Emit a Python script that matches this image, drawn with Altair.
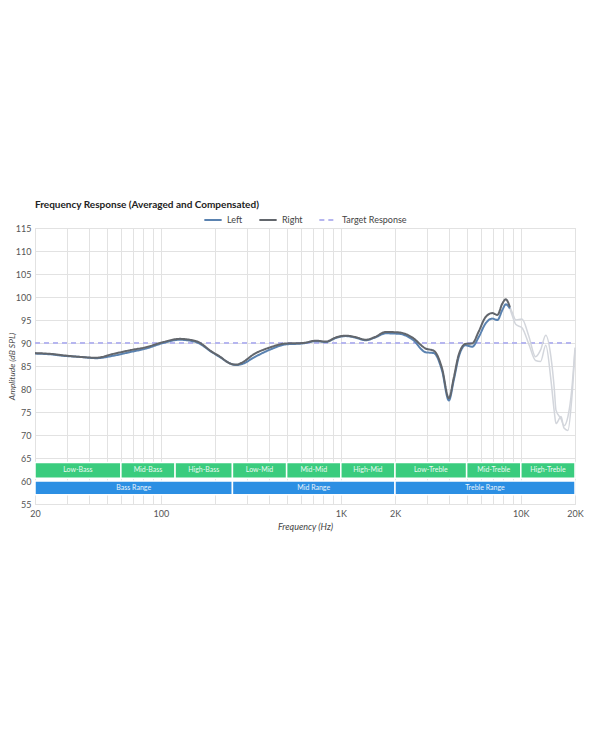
import altair as alt
import pandas as pd

# ---------------- data ----------------
freq_main = [20, 25, 29, 35, 44, 54, 67, 83, 103, 127, 157, 194, 212, 241, 262, 290,
             324, 401, 496, 614, 728, 826, 938, 1066, 1200, 1377, 1550, 1775, 2104,
             2495, 2958, 3290, 3650, 3983, 4245, 4522, 4929, 5370, 5836, 6360, 6930,
             7410, 7900, 8250, 8700]
left_main = [87.7, 87.5, 87.2, 87.0, 86.7, 87.2, 88.0, 88.8, 90.0, 90.7, 90.2, 87.9,
             87.0, 85.6, 85.2, 85.6, 86.7, 88.5, 89.7, 89.9, 90.4, 90.2, 91.1, 91.5,
             91.2, 90.6, 91.2, 92.1, 92.0, 90.8, 88.0, 87.8, 84.0, 77.5, 82.0, 87.0,
             89.5, 89.2, 91.3, 94.2, 95.3, 95.0, 97.2, 98.4, 97.5]
right_main = [87.8, 87.6, 87.3, 87.0, 86.8, 87.6, 88.4, 89.1, 90.2, 90.9, 90.4, 88.0,
              87.1, 85.6, 85.3, 86.0, 87.4, 89.0, 89.9, 90.0, 90.5, 90.3, 91.2, 91.6,
              91.3, 90.7, 91.3, 92.4, 92.3, 91.2, 88.8, 88.3, 84.5, 78.0, 82.5, 87.5,
              89.8, 89.9, 92.5, 95.6, 96.5, 96.1, 98.6, 99.5, 97.8]

freq_hi = [8700, 8990, 9400, 10150, 11070, 12070, 12880, 13760, 14700, 15350, 15680,
           16730, 17370, 18270, 19200, 20000]
left_hi = [97.5, 95.8, 94.0, 93.3, 89.8, 86.2, 86.0, 89.5, 82.0, 75.0, 72.5, 74.0,
           71.5, 71.0, 78.0, 88.5]
right_hi = [97.8, 96.5, 95.0, 95.2, 91.5, 87.0, 88.5, 91.7, 87.0, 80.0, 75.4, 73.5,
            72.0, 74.0, 80.0, 89.0]

target_freq = [20, 20000]
target_level = [90, 90]

band_names = ["Low-Bass", "Mid-Bass", "High-Bass", "Low-Mid", "Mid-Mid", "High-Mid",
              "Low-Treble", "Mid-Treble", "High-Treble"]
band_start = [20, 60, 120, 250, 500, 1000, 2000, 5000, 10000]
band_end = [60, 120, 250, 500, 1000, 2000, 5000, 10000, 20000]

range_names = ["Bass Range", "Mid Range", "Treble Range"]
range_start = [20, 250, 2000]
range_end = [250, 2000, 20000]

grid_freqs = [20, 30, 40, 50, 60, 70, 80, 90, 100, 200, 300, 400, 500, 600, 700, 800,
              900, 1000, 2000, 3000, 4000, 5000, 6000, 7000, 8000, 9000, 10000, 20000]
label_freqs = {20: "20", 100: "100", 1000: "1K", 2000: "2K", 10000: "10K", 20000: "20K"}
y_ticks = list(range(55, 116, 5))

series_names = ["Left", "Right", "Target Response"]
series_colors = ["#5a82b0", "#62666c", "#b6b6ef"]
series_dash = [[1, 0], [1, 0], [5, 4]]

# ---------------- tables ----------------
main = pd.concat([
    pd.DataFrame({"freq": freq_main, "value": left_main, "series": "Left"}),
    pd.DataFrame({"freq": freq_main, "value": right_main, "series": "Right"}),
])
hi = pd.concat([
    pd.DataFrame({"freq": freq_hi, "value": left_hi, "series": "Left"}),
    pd.DataFrame({"freq": freq_hi, "value": right_hi, "series": "Right"}),
])
target = pd.DataFrame({"freq": target_freq, "value": target_level,
                       "series": "Target Response"})
bands = pd.DataFrame({"name": band_names, "start": band_start, "end": band_end,
                      "y0": 60.6, "y1": 64.0, "ty": 62.3})
ranges = pd.DataFrame({"name": range_names, "start": range_start, "end": range_end,
                       "y0": 57.0, "y1": 60.0, "ty": 58.5})

FONT = "Lato"

label_expr = " : ".join(
    [f"datum.value == {k} ? '{v}'" for k, v in label_freqs.items()]) + " : ''"

x_scale = alt.Scale(type="log", domain=[20, 20000], nice=False)
y_scale = alt.Scale(domain=[55, 115], nice=False, zero=False)

x_axis = alt.Axis(values=grid_freqs, labelExpr=label_expr, title="Frequency (Hz)",
                  titleFontStyle="italic", titleFontWeight="normal", titleFontSize=9,
                  titleColor="#444", titlePadding=4, labelFontSize=9,
                  labelColor="#555", labelPadding=5, ticks=False, domain=False,
                  gridColor="#e2e2e2", labelFont=FONT, titleFont=FONT,
                  labelFlush=False, labelOverlap=False)
y_axis = alt.Axis(values=y_ticks, title="Amplitude (dB SPL)", titleFontStyle="italic",
                  titleFontWeight="normal", titleFontSize=8.5, titleColor="#444",
                  titleX=-19, labelFontSize=9, labelColor="#555", labelPadding=4,
                  ticks=False, domain=False, gridColor="#e2e2e2", labelFont=FONT,
                  titleFont=FONT)


def X(field):
    return alt.X(field, type="quantitative", scale=x_scale, axis=x_axis)


def Y(field):
    return alt.Y(field, type="quantitative", scale=y_scale, axis=y_axis)


legend = alt.Legend(title=None, orient="none", direction="horizontal", legendX=168,
                    legendY=-18, symbolType="stroke", symbolStrokeWidth=2,
                    symbolSize=300, labelFontSize=9, labelColor="#444",
                    labelFont=FONT, columnPadding=12, symbolOffset=0)

color_enc = alt.Color("series:N", scale=alt.Scale(domain=series_names,
                                                  range=series_colors),
                      legend=legend)
dash_enc = alt.StrokeDash("series:N", scale=alt.Scale(domain=series_names,
                                                      range=series_dash),
                          legend=legend)

band_rect = alt.Chart(bands).mark_rect(color="#3acc7e", stroke="white",
                                       strokeWidth=1.5).encode(
    x=X("start"), x2="end", y=Y("y0"), y2="y1")
range_rect = alt.Chart(ranges).mark_rect(color="#2c8fe3", stroke="white",
                                         strokeWidth=1.5).encode(
    x=X("start"), x2="end", y=Y("y0"), y2="y1")
band_text = alt.Chart(pd.concat([bands, ranges])).transform_calculate(
    mid="sqrt(datum.start * datum.end)").mark_text(
    color="white", fontSize=7, font=FONT, baseline="middle", opacity=0.9).encode(
    x=X("mid"), y=Y("ty"), text="name:N")

target_line = alt.Chart(target).mark_line(strokeWidth=1.8).encode(
    x=X("freq"), y=Y("value"), color=color_enc, strokeDash=dash_enc)

faded = alt.Chart(hi).mark_line(strokeWidth=1.5, color="#d3d6dc",
                                interpolate="monotone").encode(
    x=X("freq"), y=Y("value"), detail="series:N")

curves = alt.Chart(main).mark_line(strokeWidth=2, interpolate="monotone").encode(
    x=X("freq"), y=Y("value"), color=color_enc, strokeDash=dash_enc)

chart = alt.layer(band_rect, range_rect, band_text, target_line, faded, curves).properties(
    width=540, height=276,
    title=alt.TitleParams("Frequency Response (Averaged and Compensated)",
                          anchor="start", fontSize=10, fontWeight="bold",
                          color="#222", font=FONT, offset=0, frame="group"),
    autosize=alt.AutoSizeParams(type="none"),
    padding={"left": 27, "top": 220, "right": 9, "bottom": 40},
).configure_view(stroke=None).configure(background="white")

chart.save("out.html", embed_options={"renderer": "svg", "actions": False})
